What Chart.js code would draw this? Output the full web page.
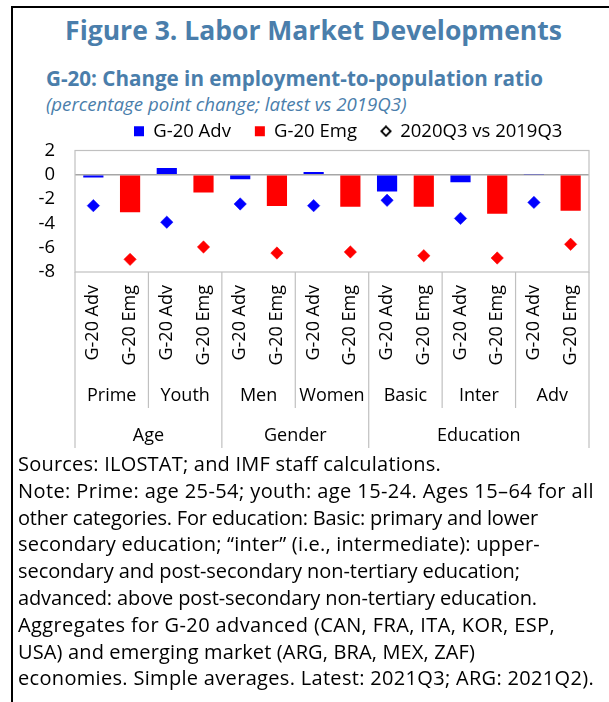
<!DOCTYPE html>
<html><head><meta charset="utf-8">
<script src="https://cdn.jsdelivr.net/npm/chart.js@4"></script>
<style>
html,body{margin:0;padding:0;background:#fff;}
body{width:609px;height:702px;position:relative;overflow:hidden;font-family:"Open Sans",sans-serif;color:#000;}
#frame{position:absolute;left:11px;top:6px;width:640px;height:720px;border-left:2px solid #000;border-top:2px solid #000;}
#titlebox{position:absolute;left:0;width:627px;top:12px;text-align:center;line-height:36px;white-space:nowrap;}
#title{font-weight:bold;font-size:26.5px;color:#4a7eab;}
#sub{position:absolute;left:46px;top:63px;font-weight:bold;font-size:20.6px;line-height:30px;color:#4a7eab;white-space:nowrap;}
#sub2{position:absolute;left:46px;top:91px;font-style:italic;font-size:18.7px;line-height:26px;color:#4a7eab;white-space:nowrap;}
#notes{position:absolute;left:18px;top:451px;font-size:20px;line-height:26.8px;white-space:nowrap;}
#notes div{display:block;width:max-content;}
#wrap{position:absolute;left:0;top:98px;width:609px;height:354px;}
</style></head>
<body>
<div id="frame"></div>
<div id="titlebox"><span id="title">Figure 3. Labor Market Developments</span></div>
<div id="sub">G-20: Change in employment-to-population ratio</div>
<div id="sub2">(percentage point change; latest vs 2019Q3)</div>
<div id="wrap"><canvas id="c"></canvas></div>
<div id="notes">
<div data-end="441">Sources: ILOSTAT; and IMF staff calculations.</div>
<div data-end="594">Note: Prime: age 25-54; youth: age 15-24. Ages 15–64 for all</div>
<div data-end="538">other categories. For education: Basic: primary and lower</div>
<div data-end="540">secondary education; “inter” (i.e., intermediate): upper-</div>
<div data-end="520">secondary and post-secondary non-tertiary education;</div>
<div data-end="537">advanced: above post-secondary non-tertiary education.</div>
<div data-end="555">Aggregates for G-20 advanced (CAN, FRA, ITA, KOR, ESP,</div>
<div data-end="475">USA) and emerging market (ARG, BRA, MEX, ZAF)</div>
<div data-end="594">economies. Simple averages. Latest: 2021Q3; ARG: 2021Q2).</div>
</div>
<script>
// ---- data ----
const seriesNames = ['G-20 Adv', 'G-20 Emg'];
const subgroups = ['Prime', 'Youth', 'Men', 'Women', 'Basic', 'Inter', 'Adv'];
const groups = ['Age', 'Gender', 'Education'];
const groupSpans = [2, 2, 3];
const advLatest = [-0.22, 0.55, -0.36, 0.23, -1.38, -0.61, 0.05];
const emgLatest = [-3.09, -1.46, -2.57, -2.62, -2.62, -3.2, -2.96];
const adv2020 = [-2.54, -3.9, -2.4, -2.54, -2.1, -3.59, -2.27];
const emg2020 = [-6.96, -5.94, -6.44, -6.35, -6.66, -6.85, -5.72];
const markerName = '2020Q3 vs 2019Q3';
const yMin = -8, yMax = 2, yStep = 2;

// ---- note line fitting (typography only) ----
document.querySelectorAll('#notes div').forEach(el => {
  const target = parseFloat(el.dataset.end) - 18;
  const w = el.getBoundingClientRect().width;
  const n = el.textContent.length;
  let ls = (target - w) / n;
  ls = Math.max(-0.8, Math.min(0.6, ls));
  el.style.letterSpacing = ls.toFixed(3) + 'px';
});

// ---- build category table ----
const categories = [];
const advBars = [], emgBars = [], points = [], pointColors = [];
const BLUE = '#0000ff', RED = '#ff0000';
subgroups.forEach((s, i) => {
  categories.push(seriesNames[0], seriesNames[1]);
  advBars.push(advLatest[i], null);
  emgBars.push(null, emgLatest[i]);
  points.push(adv2020[i], emg2020[i]);
  pointColors.push(BLUE, RED);
});

const FONT = '"Open Sans", sans-serif';
const LINE = '#c0c0c0';
const LEGEND_LEFT = 134;
const CANVAS_TOP = 98;

function diamondIcon() {
  const c = document.createElement('canvas');
  c.width = 12; c.height = 12;
  const g = c.getContext('2d');
  g.beginPath();
  g.moveTo(6, 1.3); g.lineTo(10.7, 6); g.lineTo(6, 10.7); g.lineTo(1.3, 6); g.closePath();
  g.fillStyle = '#fff'; g.fill();
  g.lineWidth = 1.8; g.strokeStyle = '#000'; g.stroke();
  return c;
}
const dIcon = diamondIcon();

const decor = {
  id: 'decor',
  afterLayout(chart) {
    const lg = chart.legend;
    if (!lg || !lg.lineWidths) return;
    const pad = lg.options.labels.padding;
    const start = (lg.left + pad + lg.right - lg.lineWidths[0]) / 2;
    const dx = LEGEND_LEFT - start;
    lg.left += dx; lg.right += dx;
  },
  afterDraw(chart) {
    const ctx = chart.ctx, ca = chart.chartArea, x = chart.scales.x;
    const n = categories.length;
    const w = (x.right - x.left) / n;
    const subBottom = 408 - CANVAS_TOP, grpBottom = 448 - CANVAS_TOP;
    ctx.save();
    ctx.strokeStyle = LINE; ctx.lineWidth = 1.2;
    ctx.strokeRect(ca.left, ca.top, ca.right - ca.left, ca.bottom - ca.top);
    const grpEdges = [0];
    groupSpans.forEach(s => grpEdges.push(grpEdges[grpEdges.length - 1] + s * 2));
    ctx.beginPath();
    for (let k = 0; k <= n; k += 2) {
      const px = x.left + k * w;
      const bottom = grpEdges.includes(k) ? grpBottom : subBottom;
      ctx.moveTo(px, ca.bottom); ctx.lineTo(px, bottom);
    }
    ctx.stroke();
    ctx.fillStyle = '#000';
    ctx.textAlign = 'center'; ctx.textBaseline = 'middle';
    ctx.font = '18px ' + FONT;
    subgroups.forEach((s, i) => {
      ctx.fillText(s, x.left + (2 * i + 1) * w, 396 - CANVAS_TOP);
    });
    let k0 = 0;
    groups.forEach((g, i) => {
      const k1 = k0 + groupSpans[i] * 2;
      ctx.fillText(g, x.left + (k0 + k1) / 2 * w, 436 - CANVAS_TOP);
      k0 = k1;
    });
    ctx.restore();
  }
};

new Chart(document.getElementById('c'), {
  data: {
    labels: categories,
    datasets: [
      { type: 'bar', label: seriesNames[0], data: advBars, backgroundColor: BLUE, grouped: false, barPercentage: 0.55, categoryPercentage: 1, order: 2 },
      { type: 'bar', label: seriesNames[1], data: emgBars, backgroundColor: RED, grouped: false, barPercentage: 0.55, categoryPercentage: 1, order: 2 },
      { type: 'line', label: markerName, data: points, showLine: false, pointStyle: 'rectRot', pointRadius: 6.2, pointHoverRadius: 6.2,
        pointBackgroundColor: pointColors, pointBorderColor: pointColors, pointBorderWidth: 0.5, order: 1 }
    ]
  },
  options: {
    responsive: true, maintainAspectRatio: false, animation: false,
    layout: { padding: { right: 20, left: 0, top: 0, bottom: 0 } },
    plugins: {
      tooltip: { enabled: false },
      legend: {
        position: 'top', align: 'center',
        labels: {
          usePointStyle: true, boxWidth: 10, boxHeight: 10, padding: 24, color: '#000',
          font: { family: FONT, size: 18.5 },
          generateLabels: () => [
            { text: seriesNames[0], fillStyle: BLUE, strokeStyle: BLUE, lineWidth: 0, pointStyle: 'rect', hidden: false, datasetIndex: 0 },
            { text: seriesNames[1], fillStyle: RED, strokeStyle: RED, lineWidth: 0, pointStyle: 'rect', hidden: false, datasetIndex: 1 },
            { text: markerName, fillStyle: '#fff', strokeStyle: '#000', lineWidth: 0, pointStyle: dIcon, hidden: false, datasetIndex: 2 }
          ]
        }
      }
    },
    scales: {
      x: {
        type: 'category', offset: true,
        grid: { display: false, drawTicks: false },
        border: { display: false },
        ticks: { autoSkip: false, minRotation: 90, maxRotation: 90, padding: 13, color: '#000', font: { family: FONT, size: 18 } },
        afterFit: (s) => { s.height = 180; }
      },
      y: {
        min: yMin, max: yMax,
        grid: { drawTicks: false, lineWidth: 1.5, color: (c) => (c.tick && c.tick.value === 0) ? '#a6a6a6' : 'rgba(0,0,0,0)' },
        border: { display: false },
        ticks: { stepSize: yStep, autoSkip: false, padding: 20, color: '#000', font: { family: FONT, size: 18.5 } },
        afterFit: (s) => { s.width = 75; }
      }
    }
  },
  plugins: [decor]
});
</script>
</body></html>
